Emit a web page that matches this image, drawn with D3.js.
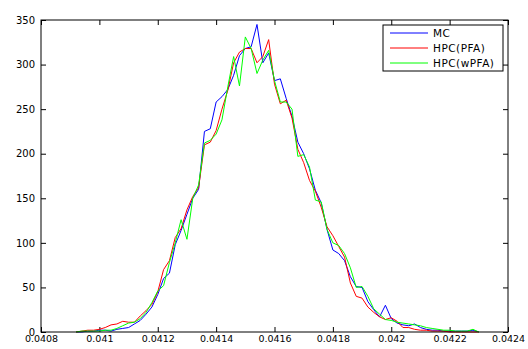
<!DOCTYPE html>
<html>
<head>
<meta charset="utf-8">
<script src="https://cdn.jsdelivr.net/npm/d3@7"></script>
<style>
  html, body { margin: 0; padding: 0; background: #fff; }
  svg { display: block; }
  text { font-family: "DejaVu Sans", sans-serif; }
</style>
</head>
<body>
<svg id="chart"></svg>
<script>
// bin centres (x) shared by all three histograms
const bins = [
  0.04092, 0.04094, 0.04096, 0.04098, 0.04100, 0.04102, 0.04104, 0.04106, 0.04108, 0.04110,
  0.04112, 0.04114, 0.04116, 0.04118, 0.04120, 0.04122, 0.04124, 0.04126, 0.04128, 0.04130,
  0.04132, 0.04134, 0.04136, 0.04138, 0.04140, 0.04142, 0.04144, 0.04146, 0.04148, 0.04150,
  0.04152, 0.04154, 0.04156, 0.04158, 0.04160, 0.04162, 0.04164, 0.04166, 0.04168, 0.04170,
  0.04172, 0.04174, 0.04176, 0.04178, 0.04180, 0.04182, 0.04184, 0.04186, 0.04188, 0.04190,
  0.04192, 0.04194, 0.04196, 0.04198, 0.04200, 0.04202, 0.04204, 0.04206, 0.04208, 0.04210,
  0.04212, 0.04214, 0.04216, 0.04218, 0.04220, 0.04222, 0.04224, 0.04226, 0.04228, 0.04230
];

const mcValues = [
  0, 0, 1, 1, 2, 2, 1, 3, 4, 5,
  9, 13, 20, 28, 42, 60, 66, 98, 114, 132,
  150, 160, 225, 228, 258, 264, 272, 288, 310, 318,
  320, 345, 302, 313, 282, 284, 262, 242, 213, 200,
  183, 159, 145, 115, 92, 88, 80, 62, 51, 50,
  34, 25, 17, 30, 15, 10, 8, 7, 9, 5,
  3, 2, 2, 1, 1, 1, 1, 1, 2, 0
];

const pfaValues = [
  0, 1, 2, 2, 3, 5, 8, 9, 12, 11,
  11, 18, 24, 31, 45, 70, 80, 106, 116, 137,
  152, 162, 210, 213, 226, 250, 271, 302, 314, 318,
  318, 302, 309, 328, 278, 256, 260, 240, 205, 190,
  170, 158, 140, 118, 108, 96, 84, 55, 40, 38,
  28, 22, 17, 14, 16, 12, 5, 5, 3, 2,
  2, 1, 1, 1, 0, 0, 0, 0, 0, 0
];

const wpfaValues = [
  0, 1, 1, 1, 1, 2, 2, 4, 7, 10,
  11, 15, 22, 33, 46, 52, 78, 100, 126, 104,
  150, 165, 212, 215, 222, 238, 275, 309, 276, 331,
  318, 290, 305, 316, 282, 258, 258, 250, 197, 199,
  185, 148, 146, 115, 100, 97, 88, 72, 50, 51,
  40, 26, 20, 14, 13, 11, 10, 9, 8, 7,
  5, 4, 3, 2, 2, 1, 1, 1, 3, 0
];

const seriesNames = ['MC', 'HPC(PFA)', 'HPC(wPFA)'];
const seriesColors = ['#0000ff', '#ff0000', '#00ff00'];

const xTicks = [0.0408, 0.041, 0.0412, 0.0414, 0.0416, 0.0418, 0.042, 0.0422, 0.0424];
const yTicks = [0, 50, 100, 150, 200, 250, 300, 350];

const width = 528, height = 349;
const margin = { top: 20, right: 20, bottom: 17, left: 41 };
const innerWidth = 508 - margin.left;
const innerHeight = 332 - margin.top;

const svg = d3.select('#chart')
  .attr('width', width)
  .attr('height', height);

svg.append('rect')
  .attr('width', width)
  .attr('height', height)
  .attr('fill', '#fff');

const xScale = d3.scaleLinear()
  .domain([0.0408, 0.0424])
  .range([0, innerWidth]);

const yScale = d3.scaleLinear()
  .domain([0, 350])
  .range([innerHeight, 0]);

const mainGroup = svg.append('g')
  .attr('transform', `translate(${margin.left}, ${margin.top})`);

const fmt = d => String(+d.toFixed(4));

// axes, ticks pointing inwards like matlab
const bottomAxis = mainGroup.append('g')
  .attr('transform', `translate(0, ${innerHeight})`)
  .call(d3.axisBottom(xScale).tickValues(xTicks).tickFormat(fmt).tickSizeInner(-5).tickSizeOuter(0).tickPadding(3));

const topAxis = mainGroup.append('g')
  .call(d3.axisTop(xScale).tickValues(xTicks).tickFormat('').tickSizeInner(-5).tickSizeOuter(0));

const leftAxis = mainGroup.append('g')
  .call(d3.axisLeft(yScale).tickValues(yTicks).tickFormat(d3.format('d')).tickSizeInner(-5).tickSizeOuter(0).tickPadding(6));

const rightAxis = mainGroup.append('g')
  .attr('transform', `translate(${innerWidth}, 0)`)
  .call(d3.axisRight(yScale).tickValues(yTicks).tickFormat('').tickSizeInner(-5).tickSizeOuter(0));

[bottomAxis, topAxis, leftAxis, rightAxis].forEach(axis => {
  axis.select('.domain').remove();
  axis.selectAll('line').attr('stroke', '#000');
  axis.selectAll('text')
    .attr('fill', '#000')
    .style('font-family', '"DejaVu Sans", sans-serif')
    .style('font-size', '10px');
});
bottomAxis.selectAll('text').style('font-size', '9.5px');

// lines
const allSeries = [mcValues, pfaValues, wpfaValues];
const line = d3.line()
  .x((d, i) => xScale(bins[i]))
  .y(d => yScale(d));

mainGroup.selectAll('.series')
  .data(allSeries)
  .enter()
  .append('path')
  .attr('class', 'series')
  .attr('d', line)
  .attr('fill', 'none')
  .attr('stroke', (d, i) => seriesColors[i])
  .attr('stroke-width', 1);

// frame
mainGroup.append('rect')
  .attr('x', 0)
  .attr('y', 0)
  .attr('width', innerWidth)
  .attr('height', innerHeight)
  .attr('fill', 'none')
  .attr('stroke', '#000')
  .attr('stroke-width', 1);

// legend
const legend = svg.append('g')
  .attr('transform', 'translate(383, 25)');

legend.append('rect')
  .attr('width', 120)
  .attr('height', 46)
  .attr('fill', '#fff')
  .attr('stroke', '#000')
  .attr('stroke-width', 1);

const rows = legend.selectAll('.row')
  .data(seriesNames)
  .enter()
  .append('g')
  .attr('class', 'row')
  .attr('transform', (d, i) => `translate(0, ${8 + i * 15})`);

rows.append('line')
  .attr('x1', 7)
  .attr('x2', 45)
  .attr('stroke', (d, i) => seriesColors[i])
  .attr('stroke-width', 1);

rows.append('text')
  .attr('x', 50)
  .attr('dy', '0.35em')
  .attr('fill', '#000')
  .style('font-size', '10.5px')
  .style('letter-spacing', '0.5px')
  .text(d => d);
</script>
</body>
</html>
